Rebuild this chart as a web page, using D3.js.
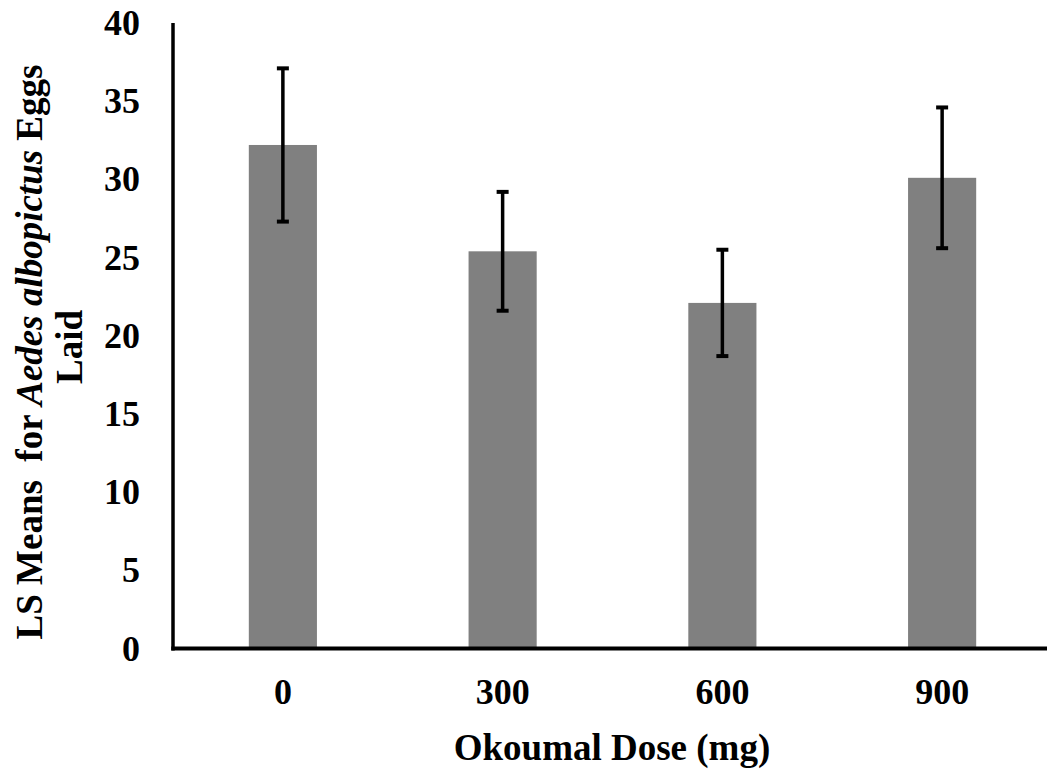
<!DOCTYPE html>
<html>
<head>
<meta charset="utf-8">
<script src="https://cdn.jsdelivr.net/npm/d3@7"></script>
<style>
  body { margin: 0; background: #fff; }
  svg text { font-family: "Liberation Serif", "Times New Roman", serif; font-weight: bold; fill: #000; white-space: pre; }
</style>
</head>
<body>
<div id="chart"></div>
<script>
const doses = ["0", "300", "600", "900"];
const lsMeans = [32.2, 25.4, 22.1, 30.1];
const stdErrors = [4.9, 3.8, 3.4, 4.5];
const yTicks = [0, 5, 10, 15, 20, 25, 30, 35, 40];

const width = 1047, height = 771;

const svg = d3.select("#chart")
    .append("svg")
    .attr("width", width)
    .attr("height", height);

const x = d3.scaleBand()
    .domain(doses)
    .range([173, 1052])
    .paddingInner(0.69)
    .paddingOuter(0.345);

const y = d3.scaleLinear()
    .domain([0, 40])
    .range([648.5, 23]);

// bars
svg.selectAll(".bar")
    .data(doses)
    .enter()
    .append("rect")
    .attr("class", "bar")
    .attr("x", d => x(d))
    .attr("y", (d, i) => y(lsMeans[i]))
    .attr("width", x.bandwidth())
    .attr("height", (d, i) => y(0) - y(lsMeans[i]))
    .attr("fill", "#808080");

// error bars
const err = svg.selectAll(".err")
    .data(doses)
    .enter()
    .append("g")
    .attr("class", "err")
    .attr("stroke", "#000");

err.append("line")
    .attr("x1", d => x(d) + x.bandwidth() / 2)
    .attr("x2", d => x(d) + x.bandwidth() / 2)
    .attr("y1", (d, i) => y(lsMeans[i] + stdErrors[i]))
    .attr("y2", (d, i) => y(lsMeans[i] - stdErrors[i]))
    .attr("stroke-width", 3.5);

[1, -1].forEach(sign => {
    err.append("line")
        .attr("x1", d => x(d) + x.bandwidth() / 2 - 6)
        .attr("x2", d => x(d) + x.bandwidth() / 2 + 6)
        .attr("y1", (d, i) => y(lsMeans[i] + sign * stdErrors[i]))
        .attr("y2", (d, i) => y(lsMeans[i] + sign * stdErrors[i]))
        .attr("stroke-width", 4);
});

// y axis
const yAxis = svg.append("g")
    .attr("transform", "translate(173,0)")
    .call(d3.axisLeft(y).tickValues(yTicks).tickSize(0).tickPadding(33));
yAxis.select(".domain").remove();
yAxis.selectAll("text")
    .style("font-size", "36px");

svg.append("line")
    .attr("x1", 173).attr("x2", 173)
    .attr("y1", 23).attr("y2", 650.5)
    .attr("stroke", "#000")
    .attr("stroke-width", 3.5);

// x axis
const xAxis = svg.append("g")
    .attr("transform", `translate(0,${y(0)})`)
    .call(d3.axisBottom(x).tickSize(0).tickPadding(30));
xAxis.select(".domain").remove();
xAxis.selectAll("text")
    .style("font-size", "36px");

svg.append("line")
    .attr("x1", 171.25).attr("x2", width)
    .attr("y1", y(0)).attr("y2", y(0))
    .attr("stroke", "#000")
    .attr("stroke-width", 4);

// axis titles
svg.append("text")
    .attr("x", 612)
    .attr("y", 760)
    .attr("text-anchor", "middle")
    .style("font-size", "37px")
    .text("Okoumal Dose (mg)");

const yTitle = svg.append("text")
    .attr("transform", "translate(42,352) rotate(-90)")
    .attr("text-anchor", "middle")
    .style("font-size", "37px");
yTitle.append("tspan").text("LS Means  for ");
yTitle.append("tspan").style("font-style", "italic").text("Aedes albopictus");
yTitle.append("tspan").text(" Eggs");

svg.append("text")
    .attr("transform", "translate(82,347) rotate(-90)")
    .attr("text-anchor", "middle")
    .style("font-size", "37px")
    .text("Laid");
</script>
</body>
</html>
